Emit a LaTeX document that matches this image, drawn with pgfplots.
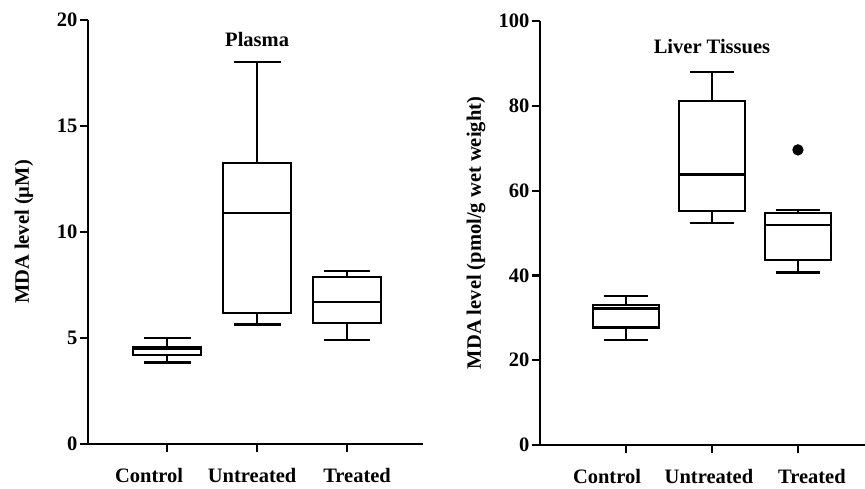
\documentclass[border=0pt]{standalone}
\usepackage{fontspec}
\setmainfont{Liberation Serif}
\usepackage{pgfplots}
\pgfplotsset{compat=1.18}
\usepgfplotslibrary{statistics}

\newcommand{\lbl}{\fontsize{20.5}{24}\selectfont\bfseries}
% tick label moved sideways by half of #1
\newcommand{\sh}[2]{\makebox[0pt]{\hspace*{#1}#2}}

\pgfplotsset{
  mdaaxis/.style={
    scale only axis, height=424pt, clip=false,
    axis lines=left, axis line style={-, line width=2.3pt, black},
    ymin=0,
    xtick={1,2,3},
    tick align=outside, major tick length=8pt,
    tick style={line width=2.2pt, black},
    ticklabel style={font=\lbl},
    yticklabel style={xshift=1pt},
    xticklabel style={yshift=-13pt},
    /pgf/number format/assume math mode=true,
    every axis y label/.style={at={(axis description cs:0,0.5)}, xshift=-64pt,
      rotate=90, anchor=center, font=\lbl},
    boxplot/draw direction=y,
    boxplot/box extend=0.76,
    boxplot/whisker extend=0.52,
  },
  mdabox/.style={draw=black, line width=2.2pt, solid, mark=*, mark size=4.5pt,
    mark options={fill=black, draw=black}},
}

\begin{document}
\begin{tikzpicture}
\useasboundingbox (0,0) rectangle (865pt,488pt);

% plasma
\begin{axis}[mdaaxis, at={(88pt,44pt)}, anchor=south west, width=335pt,
  xmin=0.12, xmax=3.844, ymax=20, ytick={0,5,10,15,20},
  xticklabels={\sh{-36pt}{Control},\sh{-10pt}{Untreated},\sh{20pt}{Treated}},
  ylabel={MDA level (µM)}]
\addplot[mdabox, boxplot prepared={draw position=1, lower whisker=3.84,
  lower quartile=4.2, median=4.48, upper quartile=4.55, upper whisker=5.01}]
  coordinates {};
\addplot[mdabox, boxplot prepared={draw position=2, lower whisker=5.64,
  lower quartile=6.19, median=10.91, upper quartile=13.25, upper whisker=18.03}]
  coordinates {};
\addplot[mdabox, boxplot prepared={draw position=3, lower whisker=4.92,
  lower quartile=5.69, median=6.71, upper quartile=7.88, upper whisker=8.15}]
  coordinates {};
\node[font=\lbl] at (axis cs:2,19.06) {Plasma};
\end{axis}

% liver
\begin{axis}[mdaaxis, at={(540pt,43pt)}, anchor=south west, width=325pt,
  xmin=0, xmax=3.78, ymax=100, ytick={0,20,40,60,80,100},
  xticklabels={\sh{-38pt}{Control},\sh{-6pt}{Untreated},\sh{28pt}{Treated}},
  ylabel={MDA level (pmol/g wet weight)}]
\addplot[mdabox, boxplot prepared={draw position=1, lower whisker=24.8,
  lower quartile=27.7, median=32.2, upper quartile=33.1, upper whisker=35.1}]
  coordinates {};
\addplot[mdabox, boxplot prepared={draw position=2, lower whisker=52.4,
  lower quartile=55.2, median=63.8, upper quartile=81.1, upper whisker=88.0}]
  coordinates {};
\addplot[mdabox, boxplot prepared={draw position=3, lower whisker=40.7,
  lower quartile=43.6, median=51.8, upper quartile=54.8, upper whisker=55.4}]
  table[row sep=\\, y index=0] {data\\ 69.6\\};
\node[font=\lbl] at (axis cs:2,93.9) {Liver Tissues};
\end{axis}
\end{tikzpicture}
\end{document}
